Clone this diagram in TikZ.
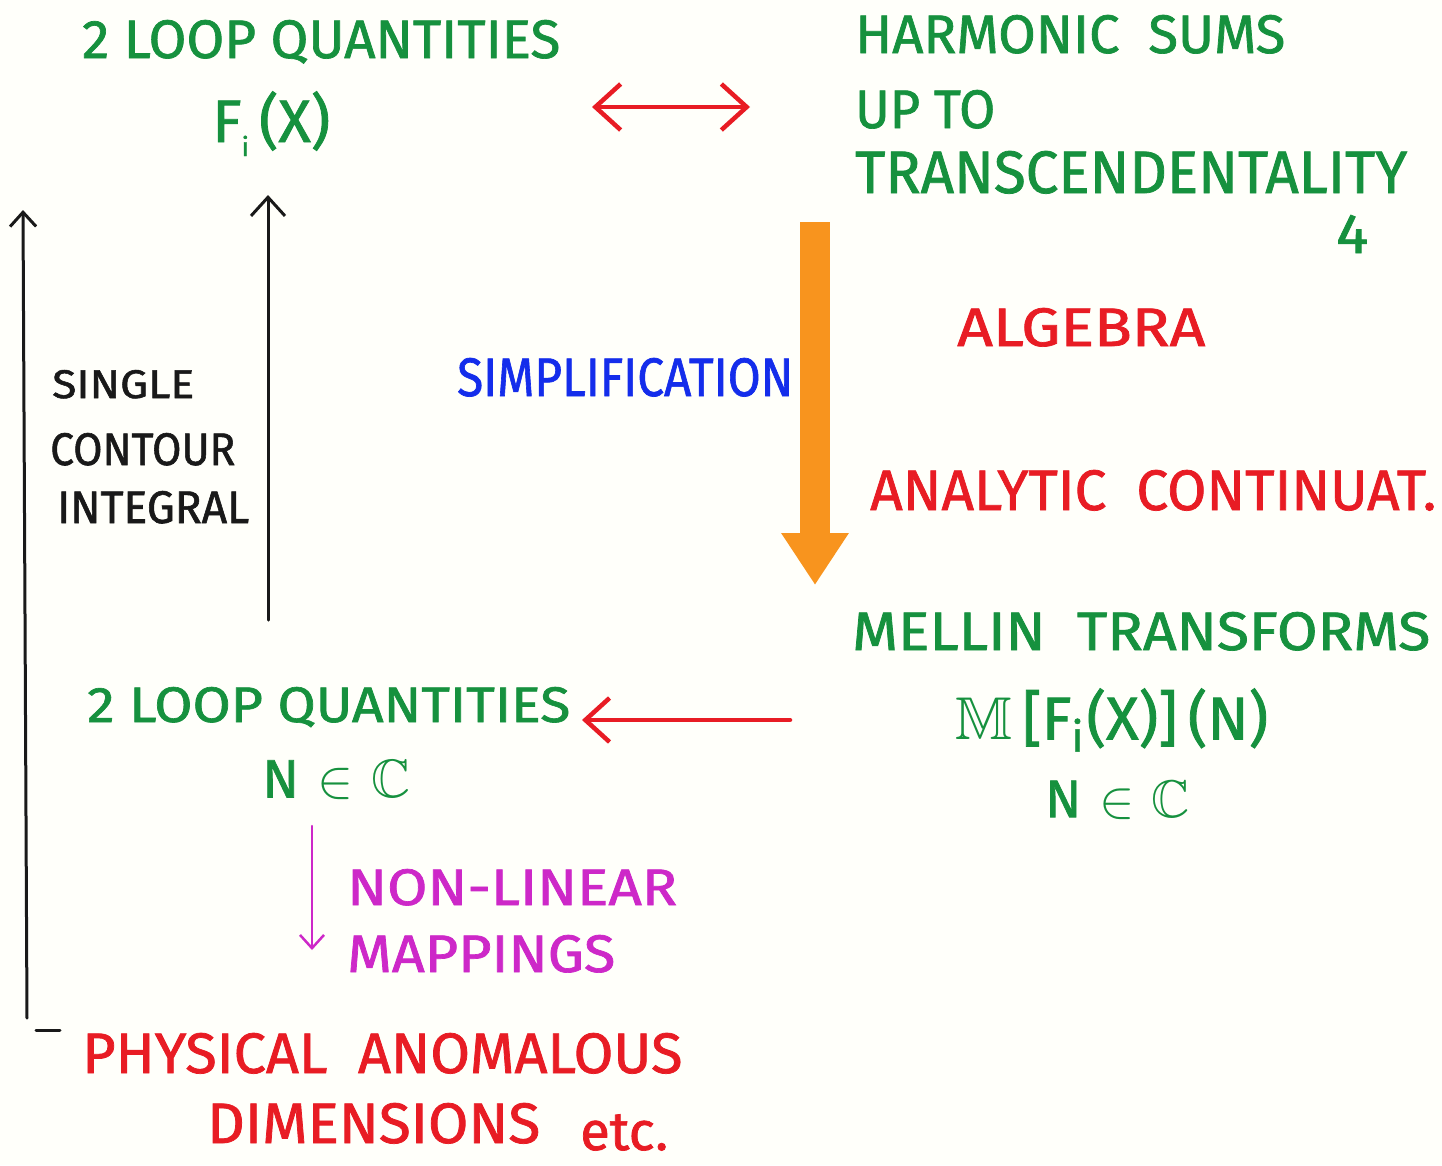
\documentclass[tikz,border=0pt]{standalone}
\usepackage{amsmath}
\usepackage{amssymb}
\usepackage{fontspec}
\usepackage{graphicx}
\usetikzlibrary{arrows.meta}
\newfontfamily\hand[FakeBold=1.3]{Fira Sans}
\definecolor{gcol}{RGB}{22,145,62}
\definecolor{rcol}{RGB}{232,28,36}
\definecolor{bcol}{RGB}{20,45,235}
\definecolor{mcol}{RGB}{205,40,200}
\definecolor{ocol}{RGB}{248,148,30}
\definecolor{kcol}{RGB}{25,25,25}
\newcommand{\hw}[3]{\resizebox{#1pt}{#2pt}{\hand #3}}
\begin{document}
\begin{tikzpicture}[x=1pt,y=-1pt,
  lbl/.style={anchor=base west, inner sep=0pt},
  lblw/.style={anchor=west, inner sep=0pt},
  barb/.style={line cap=round, -{Straight Barb[length=#1*0.55pt, width=#1pt]}},
  barbb/.style={line cap=round, {Straight Barb[length=#1*0.55pt, width=#1pt]}-{Straight Barb[length=#1*0.55pt, width=#1pt]}}]
\fill[white!98!yellow] (0,0) rectangle (1442,1165);
\useasboundingbox (0,0) rectangle (1442,1165);

% top left
\node[lbl, text=gcol] (q1) at (82,58) {\hw{478}{38}{2 LOOP QUANTITIES}};
\node[lbl, text=gcol] (fi) at (212,142) {\hand\fontsize{60}{60}\selectfont F\raisebox{-14pt}{\fontsize{26}{26}\selectfont i}\,(X)};

% top right
\node[lbl, text=gcol] (hs) at (855,53) {\hw{430}{38}{HARMONIC\ \ SUMS}};
\node[lbl, text=gcol] (up) at (855,128) {\hw{140}{38}{UP TO}};
\node[lbl, text=gcol] (tr) at (855,193) {\hw{552}{42}{TRANSCENDENTALITY}};
\node[lbl, text=gcol] (four) at (1336,253) {\hw{32}{38}{4}};

% middle
\node[lbl, text=rcol] (alg) at (957,346) {\hw{248}{38}{ALGEBRA}};
\node[lbl, text=bcol] (simp) at (457,396) {\hw{336}{38}{SIMPLIFICATION}};
\node[lbl, text=rcol] (ac) at (870,510) {\hw{566}{40}{ANALYTIC\ \ CONTINUAT.}};

\node[lbl, text=kcol] (sg) at (52,398) {\hw{142}{28}{SINGLE}};
\node[lbl, text=kcol] (ct) at (50,465) {\hw{185}{32}{CONTOUR}};
\node[lbl, text=kcol] (ig) at (57,523) {\hw{192}{32}{INTEGRAL}};

% lower right
\node[lbl, text=gcol] (mt) at (852,650) {\hw{578}{38}{MELLIN\ \ TRANSFORMS}};
\node[lblw, text=gcol] (mf) at (955,720) {\resizebox{313pt}{!}{$\mathbb{M}$\,{\hand [F\textsubscript{i}(X)]\,(N)}}};
\node[lblw, text=gcol] (nr) at (1045,800) {\resizebox{145pt}{!}{{\hand N} $\in$ $\mathbb{C}$}};

% lower left
\node[lbl, text=gcol] (q2) at (87,722) {\hw{483}{35}{2 LOOP QUANTITIES}};
\node[lblw, text=gcol] (nl) at (262,780) {\resizebox{148pt}{!}{{\hand N} $\in$ $\mathbb{C}$}};
\node[lbl, text=mcol] (nonl) at (347,905) {\hw{330}{36}{NON-LINEAR}};
\node[lbl, text=mcol] (map) at (347,972) {\hw{268}{37}{MAPPINGS}};
\node[lbl, text=rcol] (phys) at (82,1073) {\hw{600}{40}{PHYSICAL\ \ ANOMALOUS}};
\node[lbl, text=rcol] (dim) at (207,1143) {\hw{333}{40}{DIMENSIONS}};
\node[lbl, text=rcol] (etc) at (580,1150) {\resizebox{88pt}{!}{\hand etc.}};

% connectors
\coordinate (da) at (592,107);
\coordinate (db) at (750,107);
\draw[rcol, line width=4.5pt, barbb=46] (da) -- (db);

\coordinate (oa) at (815,222);
\coordinate (ob) at (815,585);
\draw[ocol, line width=30pt, -{Triangle[length=52pt, width=64pt]}] (oa) -- (ob);

\coordinate (ra) at (790,720);
\coordinate (rb) at (582,720);
\draw[rcol, line width=4.5pt, barb=44] (ra) -- (rb);

\coordinate (ia) at (268,620);
\coordinate (ib) at (268,195);
\draw[kcol, line width=3pt, barb=34] (ia) -- (ib);

\coordinate (la) at (27,1018);
\coordinate (lb) at (23,210);
\draw[kcol, line width=3pt, barb=26] (la) -- (lb);
\draw[kcol, line width=3pt, line cap=round] (36,1030) -- (60,1030);

\coordinate (ma) at (312,826);
\coordinate (mb) at (312,950);
\draw[mcol, line width=2.5pt, barb=24] (ma) -- (mb);
\end{tikzpicture}
\end{document}
